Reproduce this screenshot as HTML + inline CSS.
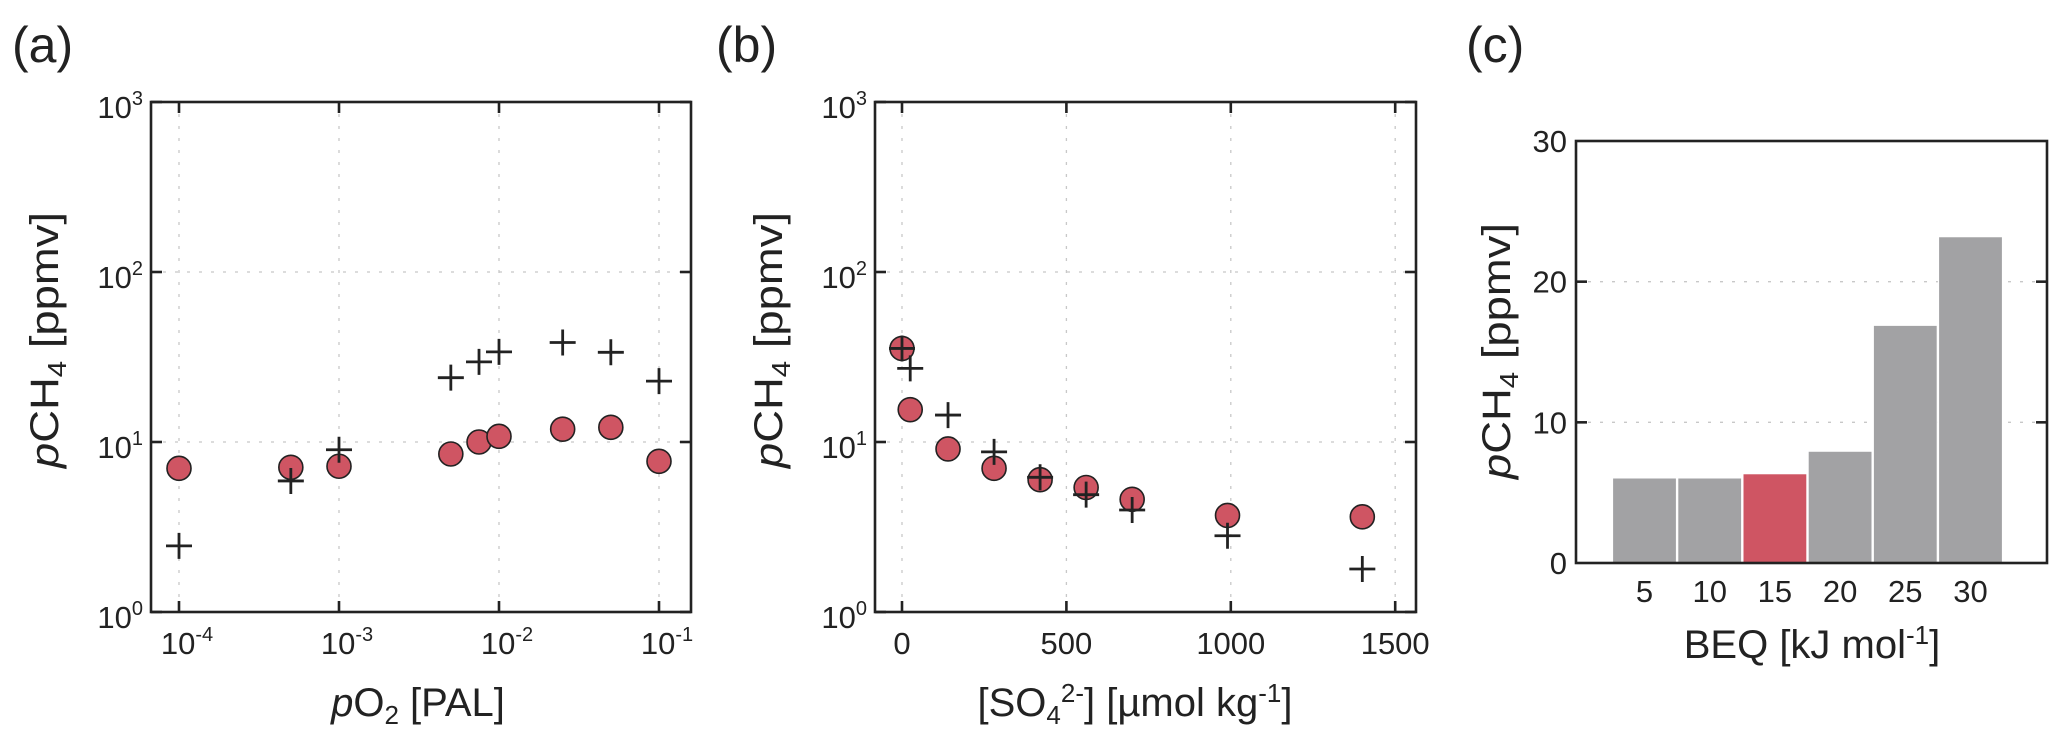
<!DOCTYPE html>
<html><head><meta charset="utf-8"><style>
html,body{margin:0;padding:0;background:#fff}
svg{display:block;font-family:"Liberation Sans",Arial,sans-serif}
</style></head><body>
<svg id="fig" width="2067" height="739" viewBox="0 0 2067 739" xmlns="http://www.w3.org/2000/svg">
<text x="12" y="62" font-size="50" fill="#222">(a)</text>
<text x="716" y="62" font-size="50" fill="#222">(b)</text>
<text x="1466" y="62" font-size="50" fill="#222">(c)</text>
<g id="pa"></g>
<g id="pb"></g>
<g id="pc"></g>
</svg>
<script>
// Panel (a) data
const aX = [1e-4, 5e-4, 1e-3, 5e-3, 7.5e-3, 1e-2, 2.5e-2, 5e-2, 1e-1];
const aCircle = [7.0, 7.1, 7.2, 8.5, 10, 10.8, 11.9, 12.2, 7.7];
const aPlus = [2.45, 5.9, 9.0, 23.9, 29.6, 33.9, 38.5, 33.7, 22.8];
const aXTicks = [-4, -3, -2, -1];
const yLogTicks = [0, 1, 2, 3];
// Panel (b) data
const bX = [0, 25, 140, 280, 420, 560, 700, 990, 1400];
const bCircle = [35.5, 15.5, 9.1, 7.0, 6.0, 5.4, 4.6, 3.7, 3.63];
const bPlus = [35.5, 27.1, 14.4, 8.75, 6.2, 4.9, 3.98, 2.81, 1.79];
const bXTicks = [0, 500, 1000, 1500];
// Panel (c) data
const cCats = [5, 10, 15, 20, 25, 30];
const cVals = [6.05, 6.05, 6.35, 7.95, 16.9, 23.2];
const cHighlight = [false, false, true, false, false, false];
const cYTicks = [0, 10, 20, 30];

const NS = "http://www.w3.org/2000/svg";
function mk(parent, tag, attrs, text) {
  const e = document.createElementNS(NS, tag);
  for (const k in attrs) e.setAttribute(k, attrs[k]);
  if (text !== undefined) e.textContent = text;
  parent.appendChild(e);
  return e;
}
const RED = "#cf5563", INK = "#222";

function frame(g, L, R, T, B) {
  const r = mk(g, "rect", {x: L, y: T, width: R - L, height: B - T, fill: "none", stroke: INK, "stroke-width": 2.6});
  
  
}
function gridV(g, x, T, B) {
  const l = mk(g, "line", {x1: x, x2: x, y1: T, y2: B, stroke: "#c8c8c8", "stroke-width": 1.3, "stroke-dasharray": "3,9"});
  
  
}
function gridH(g, y, L, R) {
  const l = mk(g, "line", {x1: L, x2: R, y1: y, y2: y, stroke: "#c8c8c8", "stroke-width": 1.3, "stroke-dasharray": "3,9"});
  
  
}
function tickX(g, x, T, B) {
  const a = mk(g, "line", {x1: x, x2: x, y1: B, y2: B - 11, stroke: INK, "stroke-width": 2.6});
  
  
  const b = mk(g, "line", {x1: x, x2: x, y1: T, y2: T + 11, stroke: INK, "stroke-width": 2.6});
  
  
}
function tickY(g, y, L, R) {
  const a = mk(g, "line", {x1: L, x2: L + 11, y1: y, y2: y, stroke: INK, "stroke-width": 2.6});
  
  
  const b = mk(g, "line", {x1: R, x2: R - 11, y1: y, y2: y, stroke: INK, "stroke-width": 2.6});
  
  
}
function powLabel(g, x, y, exp, anchor, name) {
  const t = mk(g, "text", {x: x, y: y, "font-size": 31, fill: INK, "text-anchor": anchor});
  
  
  mk(t, "tspan", {}, "10");
  mk(t, "tspan", {dy: -13, "font-size": 20}, String(exp));
  return t;
}
function circ(g, x, y, name) {
  const c = mk(g, "circle", {cx: x, cy: y, r: 12, fill: RED, stroke: INK, "stroke-width": 1.6});
  
  
}
function plus(g, x, y, name) {
  const p = mk(g, "path", {d: `M${x-13},${y}H${x+13}M${x},${y-13}V${y+13}`, stroke: INK, "stroke-width": 2.8, fill: "none"});
  
  
}
function yLabel(g, cx, cy, len, name) {
  const t = mk(g, "text", {x: 0, y: 0, "font-size": 40, fill: INK, "text-anchor": "middle", transform: `translate(${cx},${cy}) rotate(-90)`, textLength: len, lengthAdjust: "spacingAndGlyphs"});
  
  
  mk(t, "tspan", {"font-style": "italic"}, "p");
  mk(t, "tspan", {}, "CH");
  mk(t, "tspan", {"font-size": 26, dy: 8}, "4");
  mk(t, "tspan", {dy: -8}, " [ppmv]");
}

// ---------- Panel A ----------
(function () {
  const g = document.getElementById("pa");
  const L = 151, R = 691, T = 102, B = 612;
  const xs = v => 179 + (Math.log10(v) + 4) * 160;
  const ys = v => B - Math.log10(v) * 170;
  aXTicks.forEach(e => gridV(g, xs(Math.pow(10, e)), T, B));
  yLogTicks.forEach(e => { if (e > 0 && e < 3) gridH(g, ys(Math.pow(10, e)), L, R); });
  aXTicks.forEach(e => { const x = xs(Math.pow(10, e)); tickX(g, x, T, B); powLabel(g, x + 8, 654, e, "middle", "x-tick-label"); });
  yLogTicks.forEach(e => { const y = ys(Math.pow(10, e)); tickY(g, y, L, R); powLabel(g, L - 8, y + 16, e, "end", "y-tick-label"); });
  aX.forEach((x, i) => circ(g, xs(x), ys(aCircle[i]), "model-point"));
  aX.forEach((x, i) => plus(g, xs(x), ys(aPlus[i]), "reference-point"));
  frame(g, L, R, T, B);
  yLabel(g, 58, 340, 256, "y-axis-title");
  const t = mk(g, "text", {x: 418, y: 716, "font-size": 40, fill: INK, "text-anchor": "middle"});
  
  
  mk(t, "tspan", {"font-style": "italic"}, "p");
  mk(t, "tspan", {}, "O");
  mk(t, "tspan", {"font-size": 26, dy: 8}, "2");
  mk(t, "tspan", {dy: -8}, " [PAL]");
})();

// ---------- Panel B ----------
(function () {
  const g = document.getElementById("pb");
  const L = 875, R = 1416, T = 102, B = 612;
  const xs = v => 902 + v * (164.4 / 500);
  const ys = v => B - Math.log10(v) * 170;
  bXTicks.forEach(v => gridV(g, xs(v), T, B));
  yLogTicks.forEach(e => { if (e > 0 && e < 3) gridH(g, ys(Math.pow(10, e)), L, R); });
  bXTicks.forEach(v => {
    const x = xs(v); tickX(g, x, T, B);
    const t = mk(g, "text", {x: x, y: 654, "font-size": 31, fill: INK, "text-anchor": "middle"}, String(v));
    
    
  });
  yLogTicks.forEach(e => { const y = ys(Math.pow(10, e)); tickY(g, y, L, R); powLabel(g, L - 8, y + 16, e, "end", "y-tick-label"); });
  bX.forEach((x, i) => circ(g, xs(x), ys(bCircle[i]), "model-point"));
  bX.forEach((x, i) => plus(g, xs(x), ys(bPlus[i]), "reference-point"));
  frame(g, L, R, T, B);
  yLabel(g, 782, 340, 256, "y-axis-title");
  const t = mk(g, "text", {x: 1135, y: 716, "font-size": 40, fill: INK, "text-anchor": "middle"});
  
  
  mk(t, "tspan", {}, "[SO");
  mk(t, "tspan", {"font-size": 26, dy: 8}, "4");
  mk(t, "tspan", {"font-size": 26, dy: -22}, "2-");
  mk(t, "tspan", {dy: 14}, "] [µmol kg");
  mk(t, "tspan", {"font-size": 26, dy: -14}, "-1");
  mk(t, "tspan", {dy: 14}, "]");
})();

// ---------- Panel C ----------
(function () {
  const g = document.getElementById("pc");
  const L = 1576, R = 2047, T = 141, B = 563;
  const xs = v => 1644.5 + (v - 5) * 13.04;
  const ys = v => B - v * ((B - T) / 30);
  [10, 20].forEach(v => gridH(g, ys(v), L, R));
  cCats.forEach((c, i) => {
    const w = 64, x = xs(c) - w / 2, y = ys(cVals[i]);
    const r = mk(g, "rect", {x: x, y: y, width: w, height: B - y, fill: cHighlight[i] ? "#cf5563" : "#a2a2a4", stroke: "#ffffff", "stroke-width": 1.2});
    
    
    const t = mk(g, "text", {x: xs(c), y: 602, "font-size": 31, fill: INK, "text-anchor": "middle"}, String(c));
    
    
  });
  cYTicks.forEach(v => {
    const y = ys(v);
    if (v > 0 && v < 30) tickY(g, y, L, R);
    const t = mk(g, "text", {x: 1567, y: y + 11, "font-size": 31, fill: INK, "text-anchor": "end"}, String(v));
    
    
  });
  frame(g, L, R, T, B);
  yLabel(g, 1510, 351, 256, "y-axis-title");
  const t = mk(g, "text", {x: 1812, y: 658, "font-size": 40, fill: INK, "text-anchor": "middle"});
  
  
  mk(t, "tspan", {}, "BEQ [kJ mol");
  mk(t, "tspan", {"font-size": 26, dy: -14}, "-1");
  mk(t, "tspan", {dy: 14}, "]");
})();
</script>
</body></html>
